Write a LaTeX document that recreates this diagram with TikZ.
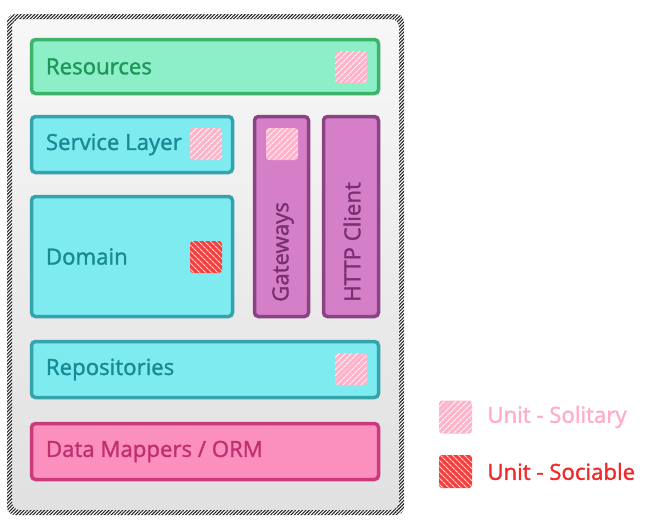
\documentclass[tikz,border=0pt]{standalone}
\usepackage{fontspec}
\setmainfont{Open Sans}[FakeBold=1.5]
\usetikzlibrary{patterns.meta}

\definecolor{resfill}{HTML}{8CEFC8}
\definecolor{resline}{HTML}{3DB36B}
\definecolor{restext}{HTML}{1E9657}
\definecolor{cyanfill}{HTML}{7EEBF1}
\definecolor{cyanline}{HTML}{35A3AC}
\definecolor{cyantext}{HTML}{178A93}
\definecolor{purpfill}{HTML}{D47FC8}
\definecolor{purpline}{HTML}{8C4383}
\definecolor{purptext}{HTML}{7A2F72}
\definecolor{pinkfill}{HTML}{FB8FBE}
\definecolor{pinkline}{HTML}{CB3A7C}
\definecolor{pinktext}{HTML}{C02F70}
\definecolor{solfill}{HTML}{FFB3CB}
\definecolor{soltext}{HTML}{FFACC6}
\definecolor{socfill}{HTML}{F04040}
\definecolor{soctext}{HTML}{EE2B2B}

\tikzset{
  layer/.style={draw, line width=3.5pt, rounded corners=4pt, inner sep=0pt},
  greenlayer/.style={layer, fill=resfill, draw=resline},
  cyanlayer/.style={layer, fill=cyanfill, draw=cyanline},
  purplayer/.style={layer, fill=purpfill, draw=purpline},
  pinklayer/.style={layer, fill=pinkfill, draw=pinkline},
  lbl/.style={anchor=west, inner sep=0pt, font=\fontsize{22.2}{26}\selectfont},
  solitary/.style={rounded corners=3pt, minimum size=32pt, inner sep=0pt, fill=solfill,
    postaction={pattern={Lines[angle=45,distance=4pt,line width=1.2pt]}, pattern color=white!85!solfill}},
  sociable/.style={rounded corners=3pt, minimum size=32pt, inner sep=0pt, fill=socfill,
    postaction={pattern={Lines[angle=-45,distance=4pt,line width=1.2pt]}, pattern color=white!80!socfill}}
}

\begin{document}
\begin{tikzpicture}[x=1pt, y=-1pt]
		%%%%% START %%%%%
		\useasboundingbox (0, 0) rectangle (646, 531);
		
		% outer frame
		\shade[top color=white!97!black, bottom color=white!88!black, rounded corners=8pt] (9, 16) rectangle (402, 513);
		\fill[white, even odd rule, rounded corners=8pt] (7, 14) rectangle (404, 515) (12, 19) rectangle (399, 510);
		\fill[pattern={Lines[angle=45,distance=2.4pt,line width=1.1pt]}, pattern color=black!85, even odd rule, rounded corners=8pt] (7, 14) rectangle (404, 515) (12, 19) rectangle (399, 510);
		
		\node[greenlayer, minimum width=347pt, minimum height=54pt] (resources) at (205, 66.5) {};
		\node[lbl, text=restext] at ([xshift=16pt]resources.west) {Resources};
		\node[solitary] (resunit) at (351, 67) {};
		
		\node[cyanlayer, minimum width=201pt, minimum height=56pt] (service) at (132, 144.5) {};
		\node[lbl, text=cyantext] at ([xshift=16pt]service.west) {Service Layer};
		\node[solitary] (serviceunit) at (206, 144) {};
		
		\node[cyanlayer, minimum width=201pt, minimum height=120pt] (domain) at (132, 256.5) {};
		\node[lbl, text=cyantext] at ([xshift=16pt]domain.west) {Domain};
		\node[sociable] (domainunit) at (206, 257) {};
		
		\node[purplayer, minimum width=54pt, minimum height=200pt] (gateways) at (281.5, 216.5) {};
		\node[solitary] (gatewayunit) at (282, 144) {};
		\node[lbl, text=purptext, rotate=90] at (283, 302) {Gateways};
		
		\node[purplayer, minimum width=55pt, minimum height=200pt] (httpclient) at (351, 216.5) {};
		\node[lbl, text=purptext, rotate=90] at (352, 302) {HTTP Client};
		
		\node[cyanlayer, minimum width=347pt, minimum height=56pt] (repos) at (205, 369.5) {};
		\node[lbl, text=cyantext] at ([xshift=16pt]repos.west) {Repositories};
		\node[solitary] (repounit) at (351, 369) {};
		
		\node[pinklayer, minimum width=347pt, minimum height=56pt] (mappers) at (205, 451.5) {};
		\node[lbl, text=pinktext] at ([xshift=16pt]mappers.west) {Data Mappers / ORM};
		
		% legend
		\node[solitary, minimum size=33pt] (solkey) at (455.5, 417) {};
		\node[lbl, text=soltext] at ([xshift=15pt]solkey.east) {Unit - Solitary};
		\node[sociable, minimum size=33pt] (sockey) at (455.5, 471.5) {};
		\node[lbl, text=soctext] at ([xshift=15pt]sockey.east) {Unit - Sociable};
		%%%%% END %%%%%
\end{tikzpicture}
\end{document}
